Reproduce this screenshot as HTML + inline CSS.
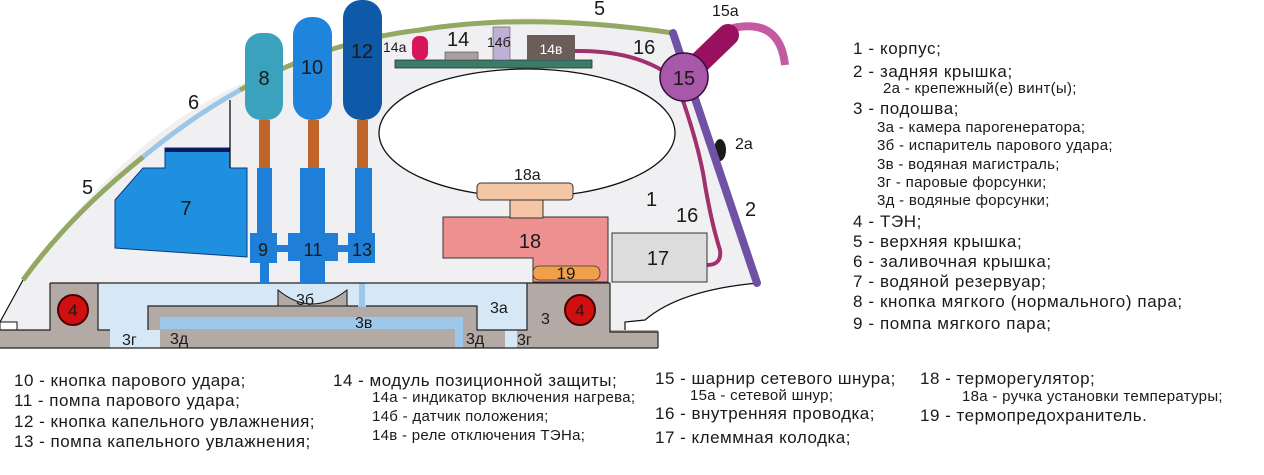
<!DOCTYPE html>
<html><head><meta charset="utf-8"><style>
html,body{margin:0;padding:0;background:#fff;}
svg{display:block;}
text{font-family:"Liberation Sans","DejaVu Sans",sans-serif;fill:#1a1a1a;}
</style></head><body>
<svg width="1264" height="475" viewBox="0 0 1264 475" xmlns="http://www.w3.org/2000/svg">
<rect width="1264" height="475" fill="#fff"/>
<path d="M0,322 L23,280 Q130,130 250,80 Q420,18 530,18 Q620,20 673,33 L758,283 Q680,290 645,320 L625,322 L625,348 L0,348 Z" fill="#f0f0f2"/>
<path d="M23,280 L0,322" stroke="#111" stroke-width="1.2" fill="none"/>
<path d="M758,283 Q680,290 645,320 L625,322 L625,332" stroke="#111" stroke-width="1.2" fill="none"/>
<ellipse cx="527" cy="133" rx="148" ry="64" fill="#fff" stroke="#111" stroke-width="1.3"/>
<path d="M23,280 Q70,215 143,157" stroke="#93a862" stroke-width="5" fill="none"/>
<path d="M143,157 Q190,118 240,90" stroke="#9cc6e6" stroke-width="5" fill="none"/>
<path d="M240,90 Q330,40 420,30 Q530,12 673,33" stroke="#93a862" stroke-width="5" fill="none"/>
<rect x="0" y="330" width="658" height="18" fill="#b3aaa6"/>
<rect x="50" y="283" width="560" height="49" fill="#b3aaa6"/>
<rect x="0" y="322" width="17" height="8" fill="#fff" stroke="#111" stroke-width="1"/>
<rect x="98" y="283" width="429" height="23" fill="#d6e8f6"/>
<rect x="98" y="283" width="50" height="47" fill="#d6e8f6"/>
<rect x="477" y="283" width="50" height="47" fill="#d6e8f6"/>
<rect x="110" y="330" width="50" height="18" fill="#d6e8f6"/>
<rect x="505" y="330" width="12" height="18" fill="#d6e8f6"/>
<rect x="160" y="317" width="302" height="12" fill="#9dc8ec"/>
<rect x="455" y="317" width="8" height="31" fill="#9dc8ec"/>
<path d="M278,290 Q312,318 347,290 L347,306 L278,306 Z" fill="#b3aaa6" stroke="#111" stroke-width="1"/>
<rect x="359" y="283" width="6" height="24" fill="#9dc8ec"/>
<path d="M50,283 L610,283 M50,283 L50,330 L0,330 M98,283 L98,330 L110,330 M148,330 L148,306 L278,306 M347,306 L358,306 M366,306 L477,306 L477,330 L527,330 L527,283 M610,283 L610,332 L658,332 L658,348 M0,348 L658,348" stroke="#222" stroke-width="1.2" fill="none"/>
<circle cx="73" cy="310" r="15" fill="#d01010" stroke="#4a0000" stroke-width="2"/>
<circle cx="580" cy="310" r="15" fill="#d01010" stroke="#4a0000" stroke-width="2"/>
<text x="73" y="316" font-size="17" text-anchor="middle">4</text>
<text x="580" y="316" font-size="17" text-anchor="middle">4</text>
<path d="M115,200 L143,168 L165,168 L165,148 L230,148 L230,168 L247,168 L247,257 L115,248 Z" fill="#1f8fe0" stroke="#0b3a7a" stroke-width="1"/>
<rect x="165" y="148" width="65" height="4" fill="#0b1a60"/>
<line x1="230" y1="100" x2="230" y2="168" stroke="#111" stroke-width="1.3"/>
<text x="186" y="215" font-size="20" text-anchor="middle">7</text>
<rect x="259" y="120" width="11" height="50" fill="#c0642a"/>
<rect x="308" y="120" width="11" height="50" fill="#c0642a"/>
<rect x="357" y="120" width="11" height="50" fill="#c0642a"/>
<g fill="#1f7fd8">
<rect x="257" y="168" width="15" height="70"/>
<rect x="250" y="233" width="27" height="30"/>
<rect x="260" y="260" width="9" height="23"/>
<rect x="300" y="168" width="25" height="115"/>
<rect x="288" y="233" width="50" height="28"/>
<rect x="355" y="168" width="17" height="70"/>
<rect x="348" y="233" width="27" height="30"/>
<rect x="275" y="245" width="15" height="7"/>
<rect x="336" y="245" width="14" height="7"/>
</g>
<text x="263" y="256" font-size="18" text-anchor="middle">9</text>
<text x="313" y="256" font-size="18" text-anchor="middle">11</text>
<text x="362" y="256" font-size="18" text-anchor="middle">13</text>
<rect x="245" y="33" width="38" height="87" rx="16" fill="#3aa2bc"/>
<rect x="293" y="17" width="39" height="103" rx="18" fill="#1f84dc"/>
<rect x="343" y="0" width="39" height="120" rx="18" fill="#0e5aa8"/>
<text x="264" y="85" font-size="20" text-anchor="middle">8</text>
<text x="312" y="74" font-size="20" text-anchor="middle">10</text>
<text x="362" y="58" font-size="20" text-anchor="middle">12</text>
<rect x="395" y="60" width="197" height="8" fill="#3d7a6a" stroke="#1e3a30" stroke-width="0.8"/>
<rect x="412" y="36" width="16" height="24" rx="7" fill="#d8145a"/>
<rect x="445" y="52" width="33" height="8" fill="#a8a0a0" stroke="#444" stroke-width="0.6"/>
<rect x="493" y="27" width="17" height="33" fill="#c0b0d8" stroke="#555" stroke-width="0.6"/>
<rect x="527" y="35" width="48" height="25" fill="#6b5e5a"/>
<text x="383" y="52" font-size="14">14а</text>
<text x="447" y="46" font-size="20">14</text>
<text x="487" y="47" font-size="14">14б</text>
<text x="551" y="54" font-size="14" text-anchor="middle" style="fill:#fff">14в</text>
<path d="M575,51 Q630,50 665,72" stroke="#a0306e" stroke-width="4" fill="none"/>
<path d="M682,98 Q700,150 705,185 Q712,225 720,250 Q722,265 707,265" stroke="#a0306e" stroke-width="4" fill="none"/>
<ellipse cx="720" cy="150" rx="6" ry="11" fill="#1a1a1a"/>
<line x1="673" y1="33" x2="757" y2="283" stroke="#6f52a6" stroke-width="8" stroke-linecap="round"/>
<path d="M733,28 Q780,18 785,65" stroke="#c45aa0" stroke-width="8" fill="none"/>
<line x1="700" y1="62" x2="728" y2="35" stroke="#98105e" stroke-width="22" stroke-linecap="round"/>
<circle cx="684" cy="77" r="24" fill="#a858a8" stroke="#3a0a3a" stroke-width="1.5"/>
<text x="684" y="85" font-size="20" text-anchor="middle">15</text>
<rect x="612" y="233" width="95" height="49" fill="#dcdcdc" stroke="#333" stroke-width="1"/>
<text x="658" y="265" font-size="20" text-anchor="middle">17</text>
<path d="M443,217 L608,217 L608,282 L533,282 L533,258 L443,258 Z" fill="#ee9090" stroke="#333" stroke-width="1"/>
<rect x="510" y="198" width="33" height="20" fill="#f5c6a6" stroke="#333" stroke-width="1"/>
<rect x="477" y="183" width="96" height="17" rx="4" fill="#f5c6a6" stroke="#333" stroke-width="1"/>
<text x="530" y="248" font-size="20" text-anchor="middle">18</text>
<rect x="533" y="266" width="67" height="14" rx="6" fill="#f0a04a" stroke="#333" stroke-width="0.8"/>
<text x="566" y="279" font-size="17" text-anchor="middle">19</text>
<g font-size="20">
<text x="82" y="194">5</text>
<text x="188" y="109">6</text>
<text x="594" y="15">5</text>
<text x="633" y="54">16</text>
<text x="646" y="206">1</text>
<text x="676" y="222">16</text>
<text x="745" y="216">2</text>
</g>
<g font-size="16">
<text x="712" y="16">15а</text>
<text x="735" y="149">2а</text>
<text x="514" y="180">18а</text>
<text x="296" y="305">3б</text>
<text x="355" y="328">3в</text>
<text x="490" y="313">3а</text>
<text x="541" y="324">3</text>
<text x="122" y="345">3г</text>
<text x="170" y="344">3д</text>
<text x="466" y="344">3д</text>
<text x="517" y="345">3г</text>
</g>
<g font-size="17" letter-spacing="0.6">
<text x="853" y="54">1 - корпус;</text>
<text x="853" y="77">2 - задняя крышка;</text>
<text x="853" y="114">3 - подошва;</text>
<text x="853" y="227">4 - ТЭН;</text>
<text x="853" y="247">5 - верхняя крышка;</text>
<text x="853" y="267">6 - заливочная крышка;</text>
<text x="853" y="287">7 - водяной резервуар;</text>
<text x="853" y="307">8 - кнопка мягкого (нормального) пара;</text>
<text x="853" y="329">9 - помпа мягкого пара;</text>
</g>
<g font-size="15" letter-spacing="0.3">
<text x="883" y="93">2а - крепежный(е) винт(ы);</text>
<text x="877" y="132">3а - камера парогенератора;</text>
<text x="877" y="150">3б - испаритель парового удара;</text>
<text x="877" y="169">3в - водяная магистраль;</text>
<text x="877" y="187">3г - паровые форсунки;</text>
<text x="877" y="205">3д - водяные форсунки;</text>
</g>
<g font-size="17" letter-spacing="0.5">
<text x="14" y="386">10 - кнопка парового удара;</text>
<text x="14" y="406">11 - помпа парового удара;</text>
<text x="14" y="427">12 - кнопка капельного увлажнения;</text>
<text x="14" y="447">13 - помпа капельного увлажнения;</text>
<text x="333" y="386">14 - модуль позиционной защиты;</text>
<text x="655" y="384">15 - шарнир сетевого шнура;</text>
<text x="655" y="419">16 - внутренняя проводка;</text>
<text x="655" y="443">17 - клеммная колодка;</text>
<text x="920" y="384">18 - терморегулятор;</text>
<text x="920" y="421">19 - термопредохранитель.</text>
</g>
<g font-size="15" letter-spacing="0.3">
<text x="372" y="402">14а - индикатор включения нагрева;</text>
<text x="372" y="421">14б - датчик положения;</text>
<text x="372" y="440">14в - реле отключения ТЭНа;</text>
<text x="690" y="400">15а - сетевой шнур;</text>
<text x="962" y="401">18а - ручка установки температуры;</text>
</g>
</svg>
</body></html>
